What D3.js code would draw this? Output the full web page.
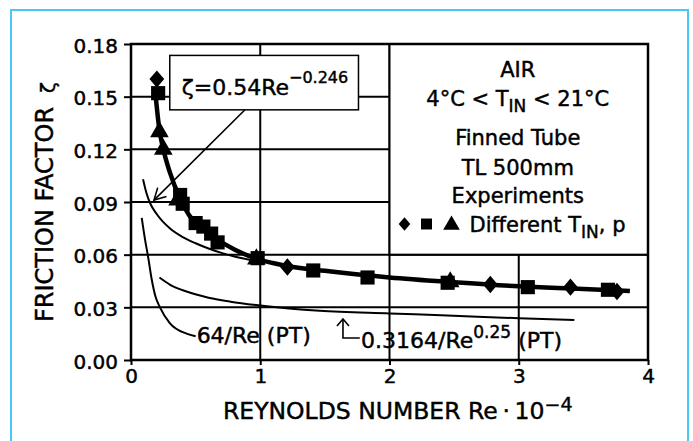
<!DOCTYPE html>
<html><head><meta charset="utf-8">
<script src="https://cdn.jsdelivr.net/npm/d3@7"></script>
<style>
body{margin:0;background:#fff}
svg{display:block}
text{font-family:"DejaVu Sans",sans-serif;fill:#000;stroke:#000;stroke-width:0.45px}
</style>
</head><body>
<svg id="c" width="693" height="441"></svg>
<script>
// ---- axis ticks ----
const xTicks = [0, 1, 2, 3, 4];
const xTickLabels = ["0", "1", "2", "3", "4"];
const yTicks = [0, 0.03, 0.06, 0.09, 0.12, 0.15, 0.18];
const yTickLabels = ["0.00", "0.03", "0.06", "0.09", "0.12", "0.15", "0.18"];
const gridX = [1, 2, 3];
const gridY = [0.03, 0.06, 0.09, 0.12, 0.15];

// ---- experimental points (Re·10^-4, ζ) ----
const diamondRe   = [0.20, 1.21, 2.78, 3.40, 3.76];
const diamondZeta = [0.160, 0.053, 0.043, 0.0415, 0.039];
const squareRe    = [0.21, 0.38, 0.40, 0.50, 0.56, 0.62, 0.67, 0.98, 1.41, 1.83, 2.45, 3.07, 3.69];
const squareZeta  = [0.152, 0.094, 0.089, 0.078, 0.076, 0.072, 0.067, 0.058, 0.051, 0.047, 0.044, 0.0415, 0.040];
const triangleRe   = [0.22, 0.25, 0.36, 0.97, 2.47];
const triangleZeta = [0.130, 0.120, 0.091, 0.0575, 0.0445];

// ---- thick fitted line through experiments ----
const fitRe   = [0.19, 0.22, 0.25, 0.30, 0.38, 0.45, 0.55, 0.65, 0.80, 1.00, 1.20, 1.50, 2.00, 2.50, 3.00, 3.50, 3.86];
const fitZeta = [0.151, 0.131, 0.120, 0.107, 0.092, 0.0825, 0.075, 0.0695, 0.063, 0.057, 0.0537, 0.0508, 0.047, 0.0443, 0.042, 0.0405, 0.0393];

// ---- thin correlation curve  ζ = 0.54 Re^-0.246 ----
const corrRe   = [0.093, 0.12, 0.15, 0.20, 0.30, 0.40, 0.50, 0.60, 0.70, 0.80, 1.00];
const corrZeta = [0.103, 0.095, 0.089, 0.083, 0.075, 0.070, 0.0665, 0.0635, 0.061, 0.059, 0.056];

// ---- laminar 64/Re (PT) ----
const lamRe   = [0.083, 0.11, 0.134, 0.16, 0.19, 0.224, 0.30, 0.43, 0.50];
const lamZeta = [0.081, 0.068, 0.058, 0.046, 0.036, 0.030, 0.021, 0.015, 0.0135];

// ---- Blasius 0.3164/Re^0.25 (PT) ----
const blaRe   = [0.22, 0.30, 0.43, 0.60, 0.77, 1.00, 1.46, 2.00, 2.40, 3.00, 3.43];
const blaZeta = [0.047, 0.043, 0.039, 0.0355, 0.0332, 0.031, 0.028, 0.0265, 0.0255, 0.0238, 0.0228];

// ---- annotation anchors (data units) ----
const eqBoxRe = [0.30, 1.76], eqBoxZeta = [0.1425, 0.1735];
const eqArrowRe = [0.88, 0.178], eqArrowZeta = [0.1424, 0.0911];

const svg = d3.select("#c");
svg.append("rect").attr("width", 693).attr("height", 441).attr("fill", "#fff");
// light blue frame
svg.append("rect").attr("x", 11).attr("y", 10).attr("width", 677).attr("height", 450)
  .attr("fill", "none").attr("stroke", "#4cc6f4").attr("stroke-width", 2);

const x = d3.scaleLinear().domain([0, 4]).range([131, 648]);
const y = d3.scaleLinear().domain([0, 0.18]).range([360, 44]);

// grid
const g = svg.append("g");
g.selectAll(".gy").data(gridY).join("line")
  .attr("x1", x(0)).attr("x2", x(4)).attr("y1", d => y(d)).attr("y2", d => y(d))
  .attr("stroke", "#000").attr("stroke-width", 2);
g.selectAll(".gx").data(gridX).join("line")
  .attr("y1", y(0)).attr("y2", y(0.18)).attr("x1", d => x(d)).attr("x2", d => x(d))
  .attr("stroke", "#000").attr("stroke-width", 2);

const line = d3.line().x(d => x(d[0])).y(d => y(d[1])).curve(d3.curveMonotoneX);
const zip = (a, b) => a.map((v, i) => [v, b[i]]);

svg.append("path").attr("d", line(zip(lamRe, lamZeta))).attr("fill", "none").attr("stroke", "#000").attr("stroke-width", 2);
svg.append("path").attr("d", line(zip(blaRe, blaZeta))).attr("fill", "none").attr("stroke", "#000").attr("stroke-width", 2);
svg.append("path").attr("d", line(zip(corrRe, corrZeta))).attr("fill", "none").attr("stroke", "#000").attr("stroke-width", 2);
svg.append("path").attr("d", line(zip(fitRe, fitZeta)))
  .attr("fill", "none").attr("stroke", "#000").attr("stroke-width", 4.5);

// markers
const wideDiamond = {draw(ctx, size) { const h = Math.sqrt(size) * 0.6, w = h * 0.85;
  ctx.moveTo(0, -h); ctx.lineTo(w, 0); ctx.lineTo(0, h); ctx.lineTo(-w, 0); ctx.closePath(); }};
const mk = (re, z, type, size) => svg.append("g").selectAll("path").data(zip(re, z)).join("path")
  .attr("transform", d => `translate(${x(d[0])},${y(d[1])})`)
  .attr("d", d3.symbol().type(type).size(size)).attr("fill", "#000");
mk(triangleRe, triangleZeta, d3.symbolTriangle, 150);
mk(squareRe, squareZeta, d3.symbolSquare, 200);
mk(diamondRe, diamondZeta, wideDiamond, 210);

// legend box
const lg = svg.append("g");
lg.append("rect").attr("x", x(2)).attr("y", y(0.18)).attr("width", x(4) - x(2)).attr("height", y(0.06) - y(0.18))
  .attr("fill", "#fff").attr("stroke", "#000").attr("stroke-width", 2);
const cx = x(3) - 1, ty = y(0.18);
const lt = (dy, size) => lg.append("text").attr("x", cx).attr("y", ty + dy).attr("text-anchor", "middle").attr("font-size", size);
lt(33, 21).text("AIR");
{ const t = lt(62, 21);
  t.append("tspan").text("4°C < T");
  t.append("tspan").attr("font-size", 17).attr("dy", 6).text("IN");
  t.append("tspan").attr("dy", -6).text(" < 21°C"); }
lt(101, 21).text("Finned Tube");
lt(131, 21).text("TL 500mm");
lt(159, 21).text("Experiments");
// symbols line
const sy = ty + 180;
lg.append("path").attr("transform", `translate(${x(2) + 15},${sy})`).attr("d", d3.symbol().type(wideDiamond).size(130));
lg.append("path").attr("transform", `translate(${x(2) + 37},${sy})`).attr("d", d3.symbol().type(d3.symbolSquare).size(120));
lg.append("path").attr("transform", `translate(${x(2) + 62},${sy + 1})`).attr("d", d3.symbol().type(d3.symbolTriangle).size(120));
{ const t = lg.append("text").attr("x", x(2) + 80).attr("y", ty + 188).attr("font-size", 21);
  t.append("tspan").text("Different  T");
  t.append("tspan").attr("font-size", 17).attr("dy", 6).text("IN");
  t.append("tspan").attr("dy", -6).text(", p"); }

// equation box + arrow
svg.append("line").attr("x1", x(eqArrowRe[0])).attr("y1", y(eqArrowZeta[0]))
  .attr("x2", x(eqArrowRe[1])).attr("y2", y(eqArrowZeta[1])).attr("stroke", "#000").attr("stroke-width", 1.6);
{ const tx = x(eqArrowRe[1]), tyy = y(eqArrowZeta[1]);
  const ang = Math.atan2(y(eqArrowZeta[0]) - tyy, x(eqArrowRe[0]) - tx);
  const L = 13, sp = 0.5;
  svg.append("path").attr("d", `M${tx + L * Math.cos(ang - sp)},${tyy + L * Math.sin(ang - sp)}L${tx},${tyy}L${tx + L * Math.cos(ang + sp)},${tyy + L * Math.sin(ang + sp)}`)
    .attr("fill", "none").attr("stroke", "#000").attr("stroke-width", 1.6); }
svg.append("rect").attr("x", x(eqBoxRe[0])).attr("y", y(eqBoxZeta[1]))
  .attr("width", x(eqBoxRe[1]) - x(eqBoxRe[0])).attr("height", y(eqBoxZeta[0]) - y(eqBoxZeta[1]))
  .attr("fill", "#fff").attr("stroke", "#000").attr("stroke-width", 1.5);
{ const t = svg.append("text").attr("x", x(eqBoxRe[0]) + 12).attr("y", y(eqBoxZeta[1]) + 40).attr("font-size", 22);
  t.append("tspan").text("ζ=0.54Re");
  t.append("tspan").attr("font-size", 16).attr("dy", -12).text("−0.246"); }

// curve labels
svg.append("text").attr("x", x(lamRe[lamRe.length - 1]) + 1).attr("y", 343).attr("font-size", 22).text("64/Re (PT)");
svg.append("path").attr("d", `M${x(1.64)},${y(0.0245) + 2}V${338}H${x(1.77)}`).attr("fill", "none").attr("stroke", "#000").attr("stroke-width", 1.6);
svg.append("path").attr("d", `M${x(1.64) - 6},${y(0.0245) + 9}L${x(1.64)},${y(0.0245) + 2}L${x(1.64) + 6},${y(0.0245) + 9}`).attr("fill", "none").attr("stroke", "#000").attr("stroke-width", 1.6);
{ const t = svg.append("text").attr("x", x(1.78)).attr("y", 348).attr("font-size", 22);
  t.append("tspan").text("0.3164/Re");
  t.append("tspan").attr("font-size", 17).attr("dy", -10).text("0.25");
  t.append("tspan").attr("dy", 10).text(" (PT)"); }

// axes
const ax = svg.append("g").attr("transform", `translate(0,${y(0)})`)
  .call(d3.axisBottom(x).tickValues(xTicks).tickFormat((d, i) => xTickLabels[i]).tickSize(5).tickPadding(4));
const ay = svg.append("g").attr("transform", `translate(${x(0)},0)`)
  .call(d3.axisLeft(y).tickValues(yTicks).tickFormat((d, i) => yTickLabels[i]).tickSize(7).tickPadding(6));
[ax, ay].forEach(a => { a.select(".domain").remove();
  a.selectAll("line").attr("stroke", "#000").attr("stroke-width", 2);
  a.selectAll("text").attr("font-family", "DejaVu Sans").attr("font-size", 20).attr("fill", "#000"); });
ay.selectAll("text").attr("dy", "0.4em");

// frame
svg.append("rect").attr("x", x(0)).attr("y", y(0.18)).attr("width", x(4) - x(0)).attr("height", y(0) - y(0.18))
  .attr("fill", "none").attr("stroke", "#000").attr("stroke-width", 2.5);

// axis titles
{ const t = svg.append("text").attr("x", 223).attr("y", 419).attr("font-size", 23.5);
  t.append("tspan").text("REYNOLDS NUMBER Re\u2009·\u200910");
  t.append("tspan").attr("font-size", 19).attr("dy", -8).text("−4"); }
svg.append("text").attr("transform", "translate(53,214.5) rotate(-90)").attr("text-anchor", "middle").attr("font-size", 24)
  .text("FRICTION FACTOR");
svg.append("text").attr("transform", "translate(55,93) rotate(-90)").attr("font-size", 20).text("ζ");
</script>
</body></html>
